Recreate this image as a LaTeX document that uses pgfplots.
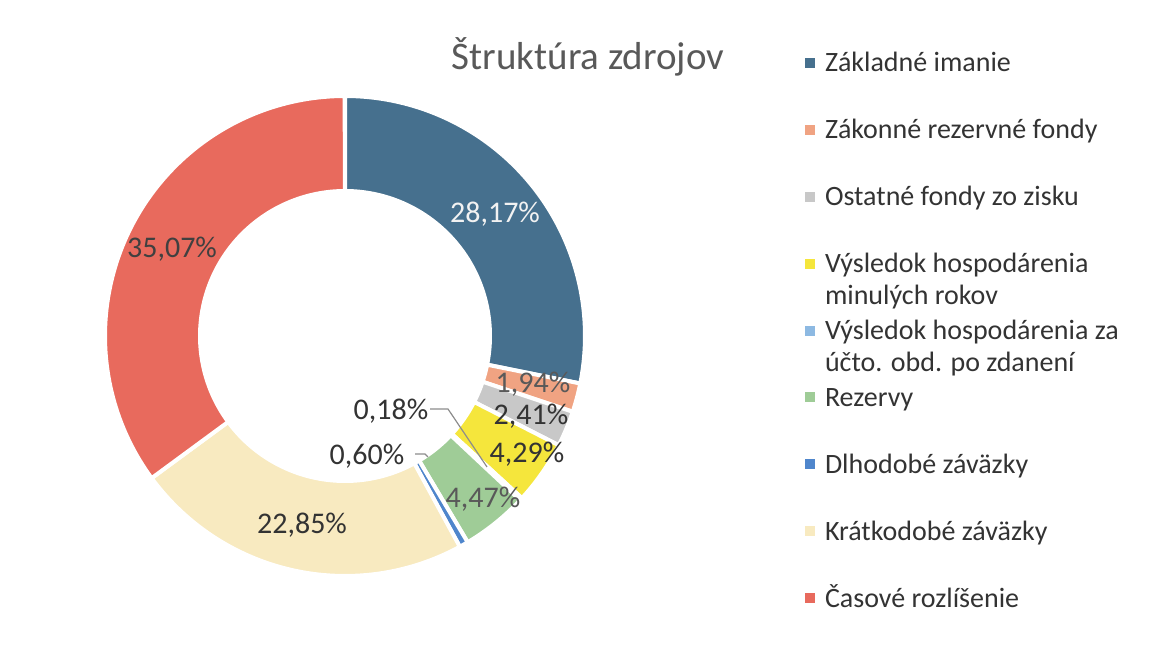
\documentclass[border=0pt]{standalone}
\usepackage{fontspec}
\setmainfont{Carlito}
\usepackage{pgfplots}
\pgfplotsset{compat=1.18}
\definecolor{cA}{HTML}{46708E}
\definecolor{cB}{HTML}{F0A382}
\definecolor{cC}{HTML}{C8C8C8}
\definecolor{cD}{HTML}{F5E63C}
\definecolor{cE}{HTML}{8DB9E2}
\definecolor{cF}{HTML}{9FCC97}
\definecolor{cG}{HTML}{4F86CC}
\definecolor{cH}{HTML}{F8EAC0}
\definecolor{cI}{HTML}{E86A5D}
\definecolor{txt}{HTML}{333333}
\newcommand\Rout{240}
\newcommand\Rin{145}
\begin{document}
\begin{tikzpicture}
\begin{axis}[
  x=1bp, y=1bp, xmin=-345, xmax=818, ymin=-327, ymax=336,
  hide axis, clip=false, scale only axis,
  legend image code/.code={\fill[#1,draw=none] (0bp,4bp) rectangle (10bp,14bp);},
  legend style={at={(axis cs:460,284)}, anchor=north west, draw=none, fill=none,
    inner sep=0pt, outer sep=0pt, row sep=0pt, column sep=10bp,
    font=\fontsize{28bp}{32bp}\selectfont, text=txt,
    nodes={anchor=base west, inner sep=0pt, outer sep=0pt, text height=20bp, text depth=46.9bp},
    cells={anchor=base west}},
  slice/.style={draw=white, line width=4bp, line join=round, domain=0:2, samples=201},
]
\xdef\cum{0}
\foreach \v/\c in {28.17/cA,1.94/cB,2.41/cC,4.29/cD,0.18/cE,4.47/cF,0.60/cG,22.85/cH,35.07/cI}{
  \pgfmathsetmacro\a{90-3.6*\cum}
  \pgfmathsetmacro\b{90-3.6*(\cum+\v)}
  \pgfmathsetmacro\d{\b-\a}
  \pgfmathsetmacro\n{\cum+\v}
  \xdef\cum{\n}
  \edef\temp{\noexpand\addplot[slice, fill=\c] ({ifthenelse(x<1.005,\Rout,\Rin)*cos(ifthenelse(x<1.005,(\a)+(\d)*x,(\b)-(\d)*max(0,(x-1.01)/0.99)))},{ifthenelse(x<1.005,\Rout,\Rin)*sin(ifthenelse(x<1.005,(\a)+(\d)*x,(\b)-(\d)*max(0,(x-1.01)/0.99)))}) -- cycle;}
  \temp
}
\addlegendentry{Základné imanie}
\addlegendentry{Zákonné rezervné fondy}
\addlegendentry{Ostatné fondy zo zisku}
\addlegendentry{\smash{\begin{tabular}[t]{@{}l@{}}Výsledok hospodárenia\\minulých rokov\end{tabular}}}
\addlegendentry{\smash{\begin{tabular}[t]{@{}l@{}}Výsledok hospodárenia za\\účto. obd. po zdanení\end{tabular}}}
\addlegendentry{Rezervy}
\addlegendentry{Dlhodobé záväzky}
\addlegendentry{Krátkodobé záväzky}
\addlegendentry{Časové rozlíšenie}
% leader lines
\addplot[forget plot, draw=black!45, line width=1.2bp] coordinates {(85,-73) (103,-73) (142,-131)};
\addplot[forget plot, draw=black!45, line width=1.2bp] coordinates {(70,-118) (80,-118) (83,-121)};
% labels
\begin{scope}[every node/.style={anchor=base, font=\fontsize{30bp}{36bp}\selectfont, inner sep=0pt}]
\node[text=white!95!black] at (axis cs:150,113) {28,17\%};
\node[text=black!75] at (axis cs:-173,78) {35,07\%};
\node[text=black!65] at (axis cs:188,-57) {1,94\%};
\node[text=txt] at (axis cs:186,-89) {2,41\%};
\node[text=txt] at (axis cs:182,-127) {4,29\%};
\node[text=black!65] at (axis cs:138,-172) {4,47\%};
\node[text=txt] at (axis cs:46,-84) {0,18\%};
\node[text=txt] at (axis cs:22,-129) {0,60\%};
\node[text=txt] at (axis cs:-43,-198) {22,85\%};
\end{scope}
\node[anchor=base, font=\fontsize{39bp}{45bp}\selectfont, text=black!65, inner sep=0pt] at (axis cs:243,266) {Štruktúra zdrojov};
\path (rel axis cs:0,0) rectangle (rel axis cs:1,1);
\end{axis}
\end{tikzpicture}
\end{document}
